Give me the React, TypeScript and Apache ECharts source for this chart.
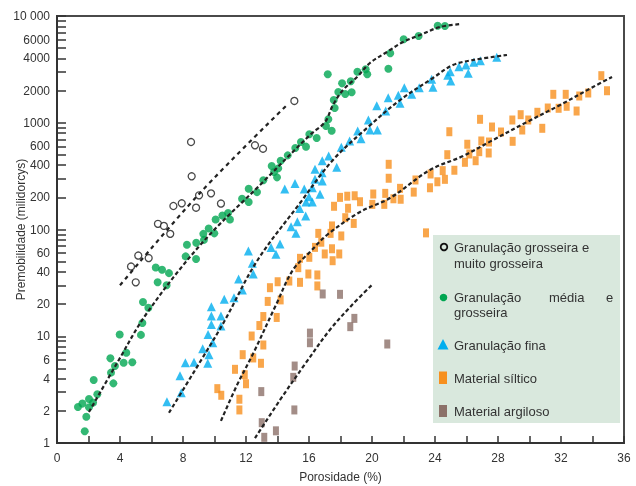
import { useEffect, useRef } from 'react';
import * as echarts from 'echarts';

// ---- data: [porosity %, permeability mD] ----
const coarse: [number, number][] = [
  [15.07, 1600], [8.51, 660], [12.57, 615], [13.08, 571], [8.55, 315], [9.78, 218], [9.02, 209],
  [7.92, 176], [7.39, 166], [10.41, 175], [8.83, 160], [6.41, 113], [6.79, 108], [7.19, 91],
  [4.7, 45], [5.16, 57], [5.82, 54], [5.0, 32],
];
const coarseTrend: [number, number][] = [[4.0, 30], [9.08, 220], [14.6, 1466]];

const medium: [number, number][] = [
  [1.33, 2.17], [1.61, 2.34], [2.03, 2.58], [2.03, 2.16], [2.29, 2.39], [1.86, 1.76], [1.76, 1.29],
  [2.56, 2.86], [2.33, 3.89], [3.58, 3.62], [3.43, 4.56], [3.68, 5.26], [3.39, 6.21], [4.23, 5.65],
  [4.78, 5.7], [4.4, 7.0], [3.98, 10.4], [5.33, 10.3], [5.42, 13.3], [5.46, 20.9], [5.8, 18.5],
  [6.27, 44], [6.67, 42], [7.11, 39], [6.39, 32], [6.96, 30], [8.17, 56], [8.25, 72], [8.84, 75],
  [8.83, 53], [9.29, 91], [9.33, 80], [9.99, 92], [9.63, 102], [10.07, 124], [10.5, 135],
  [10.86, 143], [10.98, 124], [11.75, 194], [12.17, 181], [12.17, 241], [12.7, 224], [13.1, 289],
  [13.63, 394], [13.78, 346], [13.97, 308], [14.05, 374], [14.2, 441], [14.65, 495], [15.13, 580],
  [15.49, 660], [15.81, 597], [16.02, 780], [16.49, 720], [17.08, 933], [17.23, 1077], [17.44, 843],
  [17.63, 1374], [17.57, 1633], [17.86, 1941], [18.3, 1859], [18.71, 1928], [18.1, 2340],
  [18.65, 2445], [19.07, 3008], [17.19, 2844], [19.6, 3165], [19.7, 2844], [21.04, 3210],
  [21.16, 4470], [22.01, 6050], [22.96, 6500], [24.17, 8110], [24.63, 8060],
];
const mediumTrend: [number, number][] = [
  [2.03, 1.95], [3.81, 5.6], [5.71, 16.5], [9.21, 74.8], [13.02, 273], [16.06, 768], [17.02, 1016],
  [17.52, 1466], [18.16, 2027], [19.05, 2683], [19.87, 3630], [20.95, 4600], [21.97, 5705],
  [23.05, 6640], [24.32, 7890], [25.65, 8410],
];

const fine: [number, number][] = [
  [6.98, 2.44], [7.89, 2.96], [7.81, 4.27], [8.15, 5.65], [8.7, 5.7], [9.57, 5.58], [9.65, 6.72],
  [9.25, 7.64], [9.89, 8.7], [9.59, 10.4], [9.8, 12.9], [9.8, 15.5], [9.8, 18.9], [10.41, 15.5],
  [10.41, 12.5], [10.62, 22.2], [11.24, 23], [11.77, 27.1], [11.53, 34.4], [12.46, 38.3],
  [12.4, 48.2], [12.15, 63], [13.59, 68], [14.16, 73], [13.9, 58.6], [15.17, 92], [14.86, 106],
  [15.26, 118], [15.79, 134], [15.41, 157], [15.81, 181], [16.21, 181], [16.0, 203], [16.7, 214],
  [15.7, 239], [14.46, 239], [15.11, 269], [16.21, 246], [16.38, 295], [16.38, 367], [16.84, 285],
  [16.83, 341], [16.84, 441], [17.25, 488], [17.76, 383], [18.05, 589], [18.58, 675], [19.09, 837],
  [19.3, 709], [19.77, 1061], [19.87, 855], [20.3, 1445], [20.34, 855], [20.87, 1288], [21.03, 1717],
  [21.78, 1521], [21.67, 1807], [22.05, 2130], [22.52, 1846], [23.0, 2130], [23.79, 2553],
  [23.87, 2150], [24.81, 2782], [24.97, 3008], [25.0, 2460], [25.52, 3350], [25.97, 3475],
  [26.11, 2904], [26.46, 3680], [26.88, 3815], [27.92, 4100],
];
const fineTrend: [number, number][] = [
  [7.11, 1.92], [9.08, 5.74], [10.6, 13.6], [12.7, 50.7], [15.43, 177], [17.52, 448], [19.68, 893],
  [21.78, 1633], [23.87, 2625], [25.14, 3475], [26.41, 3870], [28.57, 4310],
];

const silt: [number, number][] = [
  [10.18, 3.23], [10.43, 2.8], [11.3, 4.9], [11.58, 2.57], [11.58, 2.04], [11.92, 4.36], [12.0, 3.59],
  [11.79, 6.72], [12.46, 6.26], [12.95, 5.58], [13.1, 8.28], [12.36, 10.05], [12.85, 12.6],
  [13.1, 15.3], [13.38, 21.2], [13.52, 28.5], [14.01, 32.4], [14.2, 21.9], [13.95, 15.0],
  [14.75, 32.9], [15.32, 43.9], [15.43, 53.7], [15.43, 32], [15.96, 38.3], [16.02, 54.9],
  [16.53, 29.6], [16.53, 37.5], [16.38, 68], [16.59, 92], [17.5, 51], [17.97, 200], [18.43, 205],
  [18.9, 207], [19.24, 182], [17.59, 165], [18.48, 158], [18.3, 129], [18.84, 114], [17.46, 108],
  [18.05, 87], [17.37, 92], [16.78, 76], [17.46, 66], [17.0, 59], [17.92, 59], [20.08, 215],
  [20.02, 172], [20.78, 172], [20.84, 218], [21.36, 194], [21.82, 192], [21.78, 243], [22.65, 224],
  [22.76, 291], [23.68, 246], [23.72, 331], [24.15, 280], [24.63, 295], [24.49, 356], [25.23, 359],
  [24.78, 502], [25.9, 426], [26.18, 510], [26.05, 629], [26.58, 441], [21.06, 408], [21.06, 302],
  [24.91, 824], [23.43, 93], [26.81, 536], [26.94, 675], [27.41, 521], [27.43, 660], [26.86, 1077],
  [27.62, 912], [28.19, 819], [28.93, 670], [28.91, 1061], [29.44, 1190], [29.54, 855], [29.92, 1061],
  [30.5, 1253], [30.81, 887], [31.16, 1374], [31.51, 1846], [31.85, 1366], [32.3, 1846], [32.36, 1426],
  [32.99, 1288], [33.16, 1781], [33.73, 1900], [34.56, 2760], [34.92, 1995],
];
const siltTrend: [number, number][] = [
  [10.41, 1.61], [11.43, 3.49], [12.44, 6.82], [13.9, 19.6], [14.98, 41.8], [16.06, 61.5],
  [17.14, 88.8], [19.24, 146], [21.14, 197], [23.68, 361], [25.78, 488], [27.68, 689],
  [29.84, 1016], [31.94, 1466], [34.03, 2162], [35.24, 2683],
];

const clay: [number, number][] = [
  [13.16, 1.13], [13.9, 1.3], [13.0, 1.55], [12.97, 3.03], [15.07, 2.04], [15.0, 4.12], [15.09, 5.26],
  [16.06, 8.7], [16.06, 10.7], [18.62, 12.3], [18.88, 14.7], [16.87, 24.9], [17.97, 24.7], [20.97, 8.46],
];
const clayTrend: [number, number][] = [
  [12.57, 1.11], [14.16, 2.53], [15.75, 5.5], [17.33, 11.5], [18.73, 19.6], [20.06, 30.9],
];

// ---- axes ----
const yTickValues = [
  1, 2, 3, 4, 5, 6, 7, 8, 9, 10, 20, 30, 40, 50, 60, 70, 80, 90, 100, 200, 300, 400, 500, 600, 700,
  800, 900, 1000, 2000, 3000, 4000, 5000, 6000, 7000, 8000, 9000, 10000,
];
const yLabelValues = [1, 2, 4, 6, 10, 20, 40, 60, 100, 200, 400, 600, 1000, 2000, 4000, 6000, 10000];
const xTickValues = [0, 2, 4, 6, 8, 10, 12, 14, 16, 18, 20, 22, 24, 26, 28, 30, 32, 34, 36];
const xLabelValues = [0, 4, 8, 12, 16, 20, 24, 28, 32, 36];

const xName = 'Porosidade (%)';
const yName = 'Premobilidade (milidorcys)';

const COLORS = {
  coarse: '#1a1a1a',
  medium: '#00a651',
  fine: '#00aeef',
  silt: '#f7901e',
  clay: '#8c7169',
  legendBg: '#d9e8dd',
  text: '#333333',
};
const FONT = '"Liberation Sans", Arial, Helvetica, sans-serif';

export default function App() {
  const ref = useRef<HTMLDivElement>(null);
  useEffect(() => {
    if (!ref.current) return;
    const chart = echarts.init(ref.current, undefined, { renderer: 'svg' });
    const trendStyle = (dash: number[]) => ({
      type: 'line' as const,
      symbol: 'none',
      smooth: 0.35,
      z: 5,
      silent: true,
      lineStyle: { color: '#222', width: 2.2, type: dash },
    });
    const legendText = (text: string, x: number, y: number) => ({
      type: 'text',
      x,
      y,
      z: 12,
      style: { text, fill: COLORS.text, fontSize: 13, fontFamily: FONT, align: 'left', verticalAlign: 'middle' },
    });
    chart.setOption({
      animation: false,
      textStyle: { fontFamily: FONT },
      grid: {
        left: 57, right: 12, top: 16, bottom: 43,
        containLabel: false, outerBoundsMode: 'none',
        show: true, borderColor: '#4a4a4a', borderWidth: 2,
      },
      xAxis: {
        type: 'value', min: 0, max: 36,
        name: xName, nameLocation: 'middle', nameGap: 28, nameMoveOverlap: false,
        nameTextStyle: { color: COLORS.text, fontSize: 12, fontFamily: FONT },
        axisLine: { show: true, onZero: false, lineStyle: { color: '#333', width: 2 } },
        axisTick: { show: true, inside: true, length: 7, customValues: xTickValues, lineStyle: { color: '#333', width: 1.5 } },
        axisLabel: { customValues: xLabelValues, color: COLORS.text, fontSize: 12, fontFamily: FONT, margin: 9 },
        splitLine: { show: false },
      },
      yAxis: {
        type: 'log', logBase: 10, min: 1, max: 10000,
        name: yName, nameLocation: 'middle', nameGap: 30, nameMoveOverlap: false,
        nameTextStyle: { color: COLORS.text, fontSize: 12, fontFamily: FONT },
        axisLine: { show: true, lineStyle: { color: '#333', width: 2 } },
        axisTick: { show: true, inside: true, length: 9, customValues: yTickValues, lineStyle: { color: '#333', width: 1.5 } },
        axisLabel: {
          customValues: yLabelValues, color: COLORS.text, fontSize: 12, fontFamily: FONT, margin: 7,
          formatter: (v: number) => (v === 10000 ? '10 000' : String(v)),
        },
        splitLine: { show: false },
        minorTick: { show: false },
      },
      series: [
        {
          type: 'scatter', data: coarse, symbol: 'circle', symbolSize: 7, z: 3,
          itemStyle: { color: '#ffffff', borderColor: COLORS.coarse, borderWidth: 1.3 },
        },
        { type: 'scatter', data: medium, symbol: 'circle', symbolSize: 8, z: 3, itemStyle: { color: COLORS.medium } },
        { type: 'scatter', data: fine, symbol: 'triangle', symbolSize: 9, z: 3, itemStyle: { color: COLORS.fine } },
        { type: 'scatter', data: silt, symbol: 'rect', symbolSize: [6, 9], z: 3, itemStyle: { color: COLORS.silt } },
        { type: 'scatter', data: clay, symbol: 'rect', symbolSize: [6, 9], z: 3, itemStyle: { color: COLORS.clay } },
        { ...trendStyle([4, 4]), data: coarseTrend },
        { ...trendStyle([4, 2.5]), data: mediumTrend },
        { ...trendStyle([4, 2.5]), data: fineTrend },
        { ...trendStyle([4, 2.5]), data: siltTrend },
        { ...trendStyle([4, 2.5]), data: clayTrend },
      ],
      graphic: [
        { type: 'rect', z: 10, shape: { x: 433, y: 235, width: 187, height: 188 }, style: { fill: COLORS.legendBg } },
        { type: 'circle', z: 11, shape: { cx: 444, cy: 247, r: 3.3 }, style: { fill: 'none', stroke: '#111', lineWidth: 1.8 } },
        { type: 'circle', z: 11, shape: { cx: 443.5, cy: 297.5, r: 3.8 }, style: { fill: COLORS.medium } },
        { type: 'polygon', z: 11, shape: { points: [[443, 339], [448.5, 349.5], [437.5, 349.5]] }, style: { fill: COLORS.fine } },
        { type: 'rect', z: 11, shape: { x: 439, y: 371.5, width: 8, height: 12.5 }, style: { fill: COLORS.silt } },
        { type: 'rect', z: 11, shape: { x: 439, y: 405, width: 8, height: 12 }, style: { fill: COLORS.clay } },
        legendText('Granulação grosseira e', 454, 247),
        legendText('muito grosseira', 454, 263.5),
        legendText('Granulação', 454, 297),
        legendText('média', 549, 297),
        legendText('e', 606, 297),
        legendText('grosseira', 454, 312.5),
        legendText('Granulação fina', 454, 345),
        legendText('Material síltico', 454, 378),
        legendText('Material argiloso', 454, 411),
      ],
    });
    return () => chart.dispose();
  }, []);
  return <div ref={ref} style={{ position: 'fixed', left: 0, top: 0, width: 636, height: 486 }} />;
}
